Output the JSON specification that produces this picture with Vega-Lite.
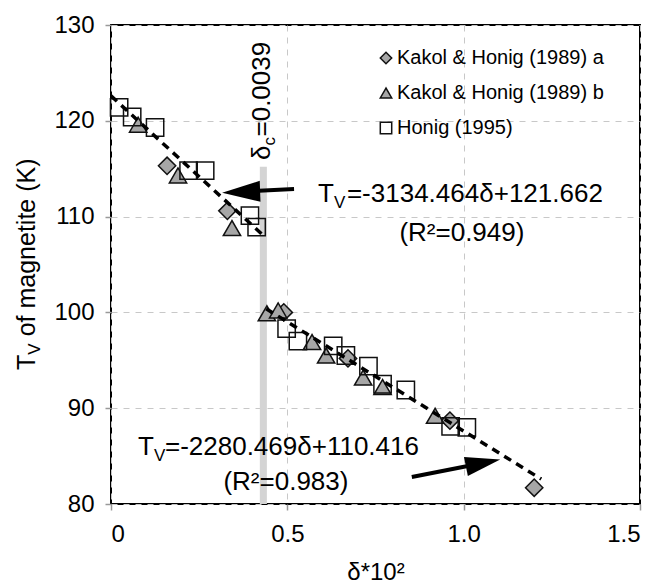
{
  "$schema": "https://vega.github.io/schema/vega-lite/v6.json",
  "width": 529,
  "height": 479,
  "autosize": {"type": "none"},
  "padding": {"left": 111, "top": 25, "right": 20, "bottom": 79},
  "background": "white",
  "config": {
    "font": "Liberation Sans",
    "view": {"stroke": "black", "strokeWidth": 2},
    "axis": {
      "labelFont": "Liberation Sans", "labelFontSize": 24, "labelColor": "black",
      "titleFont": "Liberation Sans", "titleFontSize": 24, "titleFontWeight": "normal", "titleColor": "black",
      "domain": false, "tickColor": "#999999", "tickSize": 6, "tickWidth": 1.5,
      "gridColor": "#c8c8c8", "gridDash": [6, 6], "gridWidth": 1
    }
  },
  "datasets": {
    "band": [{"x1": 0.422, "x2": 0.442, "y1": 80, "y2": 115.2}],
    "fits": [
      {"xa": 0.0, "ya": 122.6, "xb": 0.43, "yb": 108.1},
      {"xa": 0.44, "ya": 100.38, "xb": 1.22, "yb": 82.6}
    ],
    "pts": [
      {"d": 0.159, "t": 115.3, "s": "Kakol & Honig (1989) a"},
      {"d": 0.33, "t": 110.6, "s": "Kakol & Honig (1989) a"},
      {"d": 0.49, "t": 100.0, "s": "Kakol & Honig (1989) a"},
      {"d": 0.672, "t": 95.2, "s": "Kakol & Honig (1989) a"},
      {"d": 0.961, "t": 88.7, "s": "Kakol & Honig (1989) a"},
      {"d": 1.2, "t": 81.7, "s": "Kakol & Honig (1989) a"},
      {"d": 0.077, "t": 119.6, "s": "Kakol & Honig (1989) b"},
      {"d": 0.19, "t": 114.3, "s": "Kakol & Honig (1989) b"},
      {"d": 0.343, "t": 108.8, "s": "Kakol & Honig (1989) b"},
      {"d": 0.442, "t": 99.9, "s": "Kakol & Honig (1989) b"},
      {"d": 0.474, "t": 100.2, "s": "Kakol & Honig (1989) b"},
      {"d": 0.57, "t": 96.9, "s": "Kakol & Honig (1989) b"},
      {"d": 0.61, "t": 95.5, "s": "Kakol & Honig (1989) b"},
      {"d": 0.715, "t": 93.2, "s": "Kakol & Honig (1989) b"},
      {"d": 0.77, "t": 92.2, "s": "Kakol & Honig (1989) b"},
      {"d": 0.919, "t": 89.2, "s": "Kakol & Honig (1989) b"},
      {"d": 0.023, "t": 121.4, "s": "Honig (1995)"},
      {"d": 0.06, "t": 120.4, "s": "Honig (1995)"},
      {"d": 0.125, "t": 119.3, "s": "Honig (1995)"},
      {"d": 0.22, "t": 114.8, "s": "Honig (1995)"},
      {"d": 0.267, "t": 114.8, "s": "Honig (1995)"},
      {"d": 0.394, "t": 110.1, "s": "Honig (1995)"},
      {"d": 0.413, "t": 108.9, "s": "Honig (1995)"},
      {"d": 0.498, "t": 98.3, "s": "Honig (1995)"},
      {"d": 0.53, "t": 97.0, "s": "Honig (1995)"},
      {"d": 0.63, "t": 96.5, "s": "Honig (1995)"},
      {"d": 0.666, "t": 95.5, "s": "Honig (1995)"},
      {"d": 0.73, "t": 94.4, "s": "Honig (1995)"},
      {"d": 0.77, "t": 92.5, "s": "Honig (1995)"},
      {"d": 0.836, "t": 91.9, "s": "Honig (1995)"},
      {"d": 0.963, "t": 88.1, "s": "Honig (1995)"},
      {"d": 1.009, "t": 88.0, "s": "Honig (1995)"}
    ]
  },
  "layer": [
    {
      "data": {"name": "band"},
      "mark": {"type": "rect", "color": "#d4d4d4"},
      "encoding": {
        "x": {"field": "x1", "type": "quantitative", "scale": {"domain": [0, 1.5], "nice": false},
          "axis": {"values": [0, 0.5, 1, 1.5], "labelExpr": "datum.value == 0 ? '0' : format(datum.value, '.1f')",
            "title": "δ*10²", "labelPadding": 12, "titlePadding": 14, "grid": true}},
        "x2": {"field": "x2"},
        "y": {"field": "y1", "type": "quantitative", "scale": {"domain": [80, 130], "nice": false},
          "axis": {"values": [80, 90, 100, 110, 120, 130], "title": null, "labelPadding": 11, "grid": true}},
        "y2": {"field": "y2"}
      }
    },
    {
      "data": {"name": "pts"},
      "mark": {"type": "point", "strokeWidth": 1.5, "size": 300, "opacity": 1, "fillOpacity": 1, "strokeOpacity": 1},
      "encoding": {
        "x": {"field": "d", "type": "quantitative"},
        "y": {"field": "t", "type": "quantitative"},
        "shape": {"field": "s", "type": "nominal",
          "scale": {"domain": ["Kakol & Honig (1989) a", "Kakol & Honig (1989) b", "Honig (1995)"], "range": ["diamond", "triangle-up", "square"]},
          "legend": {"title": null, "orient": "none", "legendX": 265, "legendY": 23, "labelFontSize": 20, "labelFont": "Liberation Sans",
            "labelColor": "black", "symbolSize": 130, "symbolStrokeWidth": 1.5, "rowPadding": 15,
            "labelOffset": 1, "padding": 0, "labelLimit": 400}},
        "fill": {"field": "s", "type": "nominal",
          "scale": {"domain": ["Kakol & Honig (1989) a", "Kakol & Honig (1989) b", "Honig (1995)"], "range": ["#a6a6a6", "#a6a6a6", "transparent"]}},
        "stroke": {"field": "s", "type": "nominal",
          "scale": {"domain": ["Kakol & Honig (1989) a", "Kakol & Honig (1989) b", "Honig (1995)"], "range": ["#111111", "#111111", "#111111"]}}
      }
    },
    {
      "data": {"name": "fits"},
      "mark": {"type": "rule", "color": "black", "strokeWidth": 3.5, "strokeDash": [8, 6], "strokeCap": "butt"},
      "encoding": {
        "x": {"field": "xa", "type": "quantitative"},
        "y": {"field": "ya", "type": "quantitative"},
        "x2": {"field": "xb"},
        "y2": {"field": "yb"}
      }
    },
    {
      "data": {"values": [{"xa": 0.519, "ya": 112.88, "xb": 0.369, "yb": 112.6}, {"xa": 0.853, "ya": 82.82, "xb": 1.055, "yb": 84.28}]},
      "mark": {"type": "rule", "color": "black", "strokeWidth": 4},
      "encoding": {
        "x": {"field": "xa", "type": "quantitative"},
        "y": {"field": "ya", "type": "quantitative"},
        "x2": {"field": "xb"},
        "y2": {"field": "yb"}
      }
    },
    {
      "data": {"values": [{"x": 0.369, "y": 112.57}]},
      "mark": {"type": "point", "shape": "M1,0L-1,-0.55L-1,0.55Z", "size": 1444, "angle": 178, "filled": true, "fill": "black", "stroke": null, "opacity": 1},
      "encoding": {"x": {"field": "x", "type": "quantitative"}, "y": {"field": "y", "type": "quantitative"}}
    },
    {
      "data": {"values": [{"x": 1.055, "y": 84.28}]},
      "mark": {"type": "point", "shape": "M1,0L-1,-0.55L-1,0.55Z", "size": 1225, "angle": 348.4, "filled": true, "fill": "black", "stroke": null, "opacity": 1},
      "encoding": {"x": {"field": "x", "type": "quantitative"}, "y": {"field": "y", "type": "quantitative"}}
    },
    {
      "data": {"values": [
        {"x": 0.587, "y": 111.52, "txt": "T"},
        {"x": 0.669, "y": 111.52, "txt": "=-3134.464δ+121.662"},
        {"x": 0.0766, "y": 85.11, "txt": "T"},
        {"x": 0.153, "y": 85.11, "txt": "=-2280.469δ+110.416"}
      ]},
      "mark": {"type": "text", "align": "left", "baseline": "alphabetic", "fontSize": 26, "font": "Liberation Sans", "color": "black"},
      "encoding": {"x": {"field": "x", "type": "quantitative"}, "y": {"field": "y", "type": "quantitative"}, "text": {"field": "txt"}}
    },
    {
      "data": {"values": [
        {"x": 0.632, "y": 110.9, "txt": "V"},
        {"x": 0.122, "y": 84.49, "txt": "V"}
      ]},
      "mark": {"type": "text", "align": "left", "baseline": "alphabetic", "fontSize": 17, "font": "Liberation Sans", "color": "black"},
      "encoding": {"x": {"field": "x", "type": "quantitative"}, "y": {"field": "y", "type": "quantitative"}, "text": {"field": "txt"}}
    },
    {
      "data": {"values": [
        {"x": 0.995, "y": 107.45, "txt": "(R²=0.949)"},
        {"x": 0.496, "y": 81.46, "txt": "(R²=0.983)"}
      ]},
      "mark": {"type": "text", "align": "center", "baseline": "alphabetic", "fontSize": 26, "font": "Liberation Sans", "color": "black"},
      "encoding": {"x": {"field": "x", "type": "quantitative"}, "y": {"field": "y", "type": "quantitative"}, "text": {"field": "txt"}}
    },
    {
      "data": {"values": [
        {"x": 0.451, "y": 115.9, "txt": "δ"},
        {"x": 0.451, "y": 118.36, "txt": "=0.0039"}
      ]},
      "mark": {"type": "text", "align": "left", "baseline": "alphabetic", "angle": 270, "fontSize": 26, "font": "Liberation Sans", "color": "black"},
      "encoding": {"x": {"field": "x", "type": "quantitative"}, "y": {"field": "y", "type": "quantitative"}, "text": {"field": "txt"}}
    },
    {
      "data": {"values": [{"x": 0.465, "y": 117.42, "txt": "c"}]},
      "mark": {"type": "text", "align": "left", "baseline": "alphabetic", "angle": 270, "fontSize": 17, "font": "Liberation Sans", "color": "black"},
      "encoding": {"x": {"field": "x", "type": "quantitative"}, "y": {"field": "y", "type": "quantitative"}, "text": {"field": "txt"}}
    },
    {
      "data": {"values": [
        {"x": -0.215, "y": 93.99, "txt": "T"},
        {"x": -0.215, "y": 97.5, "txt": "of magnetite (K)"}
      ]},
      "mark": {"type": "text", "align": "left", "baseline": "alphabetic", "angle": 270, "fontSize": 25, "font": "Liberation Sans", "color": "black"},
      "encoding": {"x": {"field": "x", "type": "quantitative"}, "y": {"field": "y", "type": "quantitative"}, "text": {"field": "txt"}}
    },
    {
      "data": {"values": [{"x": -0.2, "y": 95.59, "txt": "V"}]},
      "mark": {"type": "text", "align": "left", "baseline": "alphabetic", "angle": 270, "fontSize": 17, "font": "Liberation Sans", "color": "black"},
      "encoding": {"x": {"field": "x", "type": "quantitative"}, "y": {"field": "y", "type": "quantitative"}, "text": {"field": "txt"}}
    }
  ]
}
